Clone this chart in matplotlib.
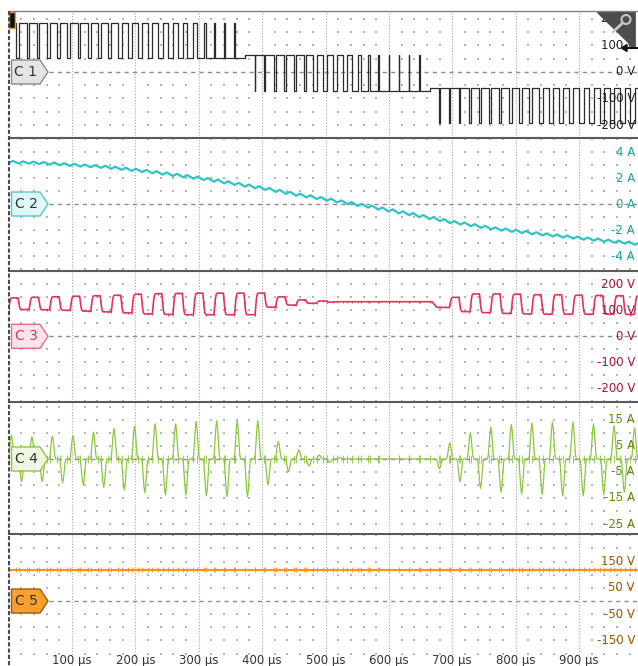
import numpy as np
import matplotlib
matplotlib.use("Agg")
import matplotlib.pyplot as plt
from matplotlib.patches import Polygon, Circle, Rectangle
from matplotlib.transforms import blended_transform_factory

# ---------------- data (time in µs) ----------------
pwm_period = 16.2
t_max = 993

# C1: PWM voltage in three bands: high level, low level, duty of each period
c1_high = [185, 64, -62]
c1_low = [52, -72, -192]
c1_duty_a = [0.75, 0.76, 0.75, 0.74, 0.74, 0.73, 0.72, 0.71, 0.70, 0.69, 0.67, 0.65,
             0.63, 0.60, 0.57, 0.53, 0.48, 0.42, 0.32, 0.22, 0.10, 0.05, 0.04]
c1_duty_b = [0.95, 0.90, 0.85, 0.80, 0.76, 0.72, 0.68, 0.64, 0.58, 0.52, 0.44, 0.33,
             0.20, 0.10, 0.06, 0.04, 0.04, 0.03]
c1_duty_c = [0.95, 0.92, 0.86, 0.82, 0.80, 0.77, 0.75, 0.72, 0.70, 0.68, 0.66, 0.64,
             0.62, 0.60, 0.58, 0.56, 0.55, 0.54, 0.53, 0.52, 0.52]

# C2: current, one value per PWM period (A)
c2_current = [3.23, 3.20, 3.18, 3.15, 3.11, 3.06, 3.01, 2.96, 2.91, 2.86, 2.79, 2.71,
              2.63, 2.54, 2.44, 2.34, 2.24, 2.14, 2.03, 1.92, 1.80, 1.67, 1.55, 1.42,
              1.29, 1.16, 1.01, 0.86, 0.72, 0.59, 0.46, 0.33, 0.20, 0.07, -0.07, -0.20,
              -0.35, -0.49, -0.64, -0.78, -0.93, -1.08, -1.24, -1.39, -1.50, -1.63, -1.76,
              -1.87, -1.97, -2.06, -2.15, -2.25, -2.34, -2.42, -2.50, -2.58, -2.66, -2.74,
              -2.82, -2.90, -2.97, -3.05]
c2_ripple = 0.08

# C3: trapezoid voltage, top and bottom of each cycle (V)
c3_period = 32.4
c3_start = [0, 695.6]
c3_top_1 = [148, 150, 152, 154, 156, 158, 162, 164, 165, 166, 166, 166, 166, 152, 140, 136]
c3_bot_1 = [103, 102, 100, 97, 94, 90, 86, 84, 83, 83, 83, 83, 112, 120, 127, 131]
c3_top_2 = [150, 163, 163, 162, 160, 160, 158, 157, 156, 155]
c3_bot_2 = [95, 91, 88, 86, 85, 85, 85, 85, 84, 84]
c3_gap_t = [520, 668, 676]
c3_gap_v = [133, 133, 111]
# edge shape of one cycle: time fraction, fraction of the swing
c3_rise_f = [0.0, 0.03, 0.07, 0.11, 0.15]
c3_rise_w = [0.0, 0.3, 0.75, 0.95, 1.0]
c3_fall_f = [0.46, 0.49, 0.53, 0.57, 0.61]
c3_fall_w = [1.0, 0.7, 0.25, 0.05, 0.0]

# C4: current lobes, peak of each half cycle (A)
c4_start = [4.3, 679.8]
c4_amp_1 = [9.2, -8.7, 8.6, -8.7, 8.8, -9.1, 9.0, -10.0, 10.3, -10.9, 11.8, -11.9,
            12.7, -13.0, 13.5, -13.8, 13.5, -13.8, 14.4, -14.2, 14.7, -14.5, 14.7,
            -14.5, 14.7, -10.0, 6.7, -4.9, 3.5, -2.7, 1.5, -1.4, 0.6]
c4_amp_2 = [-3.8, 6.3, -8.8, 10.1, -11.3, 12.2, -12.8, 13.2, -13.5, 13.8, -13.7, 14.2,
            -14.2, 14.2, -14.2, 13.5, -13.7, 12.8, -12.8, 12.0]
c4_lobe = [0, 0.12, 0.45, 0.82, 1.0, 0.82, 0.45, 0.12, 0]
c4_lobe_width = 10.5

# C5: DC voltage (V)
c5_t = [0, 993]
c5_v = [119, 119]

# panels
panel_px = [11, 138, 270.5, 402, 533.5, 666]
ylims = [(-249, 230), (-5.115, 5.077), (-252.7, 253.1), (-28.65, 21.9), (-247, 256.7)]
label_vals = [[200, 100, 0, -100, -200], [4, 2, 0, -2, -4], [200, 100, 0, -100, -200],
              [15, 5, -5, -15, -25], [150, 50, -50, -150]]
units = ["V", "A", "V", "A", "V"]
row_step = [50, 1, 50, 5, 50]
trace_col = ["#2b2b2b", "#2ec4c4", "#e2335a", "#8dc63f", "#f7941e"]
label_col = ["#222222", "#1fa3a3", "#a8133c", "#5b8c0a", "#a05800"]
tag_fill = ["#e4e4e4", "#e0f8f8", "#fde4ea", "#eef7e0", "#f7a030"]
tag_edge = ["#8a8a8a", "#4fcaca", "#e56b88", "#8dc63f", "#9a5a10"]
tag_text = ["#333333", "#333333", "#c0405e", "#333333", "#333333"]
x_ticks = [100, 200, 300, 400, 500, 600, 700, 800, 900]

# ---------------- build traces ----------------
t1, v1, edges = [], [], []
idx = 0
for hi, lo, duties in zip(c1_high, c1_low, [c1_duty_a, c1_duty_b, c1_duty_c]):
    for d in duties:
        t0 = idx * pwm_period
        tf = t0 + d * pwm_period
        t1 += [t0, tf, tf, t0 + pwm_period]
        v1 += [hi, hi, lo, lo]
        edges += [t0, tf]
        idx += 1

t2, v2 = [], []
for i, v in enumerate(c2_current):
    t0 = i * pwm_period
    t2 += [t0, t0 + 0.4 * pwm_period]
    v2 += [v - c2_ripple, v + c2_ripple]

t3, v3 = [], []
for k, (s, tops, bots) in enumerate(zip(c3_start, [c3_top_1, c3_top_2], [c3_bot_1, c3_bot_2])):
    prev = bots[0] if k == 0 else c3_gap_v[-1]
    for j, (top, bot) in enumerate(zip(tops, bots)):
        c0 = s + j * c3_period
        t3 += [c0 + f * c3_period for f in c3_rise_f]
        v3 += [prev + w * (top - prev) for w in c3_rise_w]
        t3 += [c0 + f * c3_period for f in c3_fall_f]
        v3 += [bot + w * (top - bot) for w in c3_fall_w]
        prev = bot
    if k == 0:
        t3 += c3_gap_t
        v3 += c3_gap_v

t4, v4 = [0], [0]
offs = np.linspace(-0.5, 0.5, len(c4_lobe)) * c4_lobe_width
for s, amps in zip(c4_start, [c4_amp_1, c4_amp_2]):
    for j, a in enumerate(amps):
        c = s + j * pwm_period
        t4 += list(c + offs)
        v4 += [a * f for f in c4_lobe]
t4.append(t_max)
v4.append(0)

# ---------------- figure ----------------
W, H = 638, 666
fig = plt.figure(figsize=(W / 100, H / 100), dpi=100)
fig.patch.set_facecolor("white")
x0_px = 8.6
axes = []
for p in range(5):
    top, bot = panel_px[p], panel_px[p + 1]
    ax = fig.add_axes([x0_px / W, 1 - bot / H, (W - x0_px) / W, (bot - top) / H])
    ax.set_xlim(0, t_max)
    ax.set_ylim(*ylims[p])
    ax.set_axis_off()
    # graticule
    for xt in x_ticks:
        ax.axvline(xt, color="#a8a8a8", lw=0.8, ls=(0, (1, 1.6)), zorder=0)
    step = row_step[p]
    rows = [r * step for r in range(-12, 13) if r != 0 and ylims[p][0] < r * step < ylims[p][1]]
    cols = [c for c in range(20, t_max, 20) if c % 100]
    gx, gy = np.meshgrid(cols, rows)
    ax.scatter(gx.ravel(), gy.ravel(), s=0.9, marker="s", color="#b4b4b4", lw=0, zorder=0)
    ax.axhline(0, xmin=40 / (W - x0_px), color="#8c8c8c", lw=1.0, ls=(0, (3, 3)), zorder=1)
    bt = blended_transform_factory(ax.transAxes, ax.transData)
    for val in label_vals[p]:
        ax.text(0.9952, val, f"{val} {units[p]}", transform=bt, ha="right", va="center",
                fontsize=8.5, color=label_col[p], zorder=4)
    axes.append(ax)

axes[0].plot(t1, v1, color=trace_col[0], lw=0.9, zorder=2)
axes[1].plot(t2, v2, color=trace_col[1], lw=1.6, zorder=2)
axes[2].plot(t3, v3, color=trace_col[2], lw=1.2, zorder=2)
axes[2].vlines(edges, np.interp(edges, t3, v3) - 4, np.interp(edges, t3, v3) + 4,
               color=trace_col[2], lw=0.6, zorder=2)
axes[3].plot(t4, v4, color=trace_col[3], lw=0.9, zorder=2)
axes[3].vlines(edges, -1.5, 1.5, color=trace_col[3], lw=0.6, zorder=2)
axes[4].plot(c5_t, c5_v, color=trace_col[4], lw=1.6, zorder=2)
axes[4].vlines(edges, c5_v[0] - 9, c5_v[0] + 9, color=trace_col[4], lw=0.6, zorder=2)

bt5 = blended_transform_factory(axes[4].transData, axes[4].transAxes)
for xt in x_ticks:
    axes[4].text(xt, 0.045, f"{xt} µs", transform=bt5, ha="center", va="center",
                 fontsize=8.5, color="#333333", zorder=4)

# ---------------- overlay (pixel space) ----------------
deco = fig.add_axes([0, 0, 1, 1], zorder=10)
deco.set_xlim(0, W)
deco.set_ylim(H, 0)
deco.set_axis_off()

deco.plot([x0_px, W], [11, 11], color="#808080", lw=1.0)
for y in panel_px[1:5]:
    deco.plot([x0_px, W], [y, y], color="#5a5a5a", lw=1.5)
deco.plot([x0_px, x0_px], [11, H], color="#4a4a4a", lw=1.5, ls=(0, (2, 1)))

for p, ax in enumerate(axes):
    yc = H - ax.transData.transform((0, 0))[1]
    pts = [(11.5, yc - 12), (40, yc - 12), (48, yc), (40, yc + 12), (11.5, yc + 12)]
    deco.add_patch(Polygon(pts, closed=True, facecolor=tag_fill[p], edgecolor=tag_edge[p],
                           lw=1.0, joinstyle="round"))
    deco.text(26, yc, f"C {p + 1}", ha="center", va="center", fontsize=10,
              color=tag_text[p])

# trigger position marker
deco.add_patch(Rectangle((9, 12), 6, 16, facecolor="#111111", edgecolor="#f0a030", lw=1.0))
# zoom icon
deco.add_patch(Polygon([(598, 11.5), (634, 11.5), (634, 47)], closed=True,
                       facecolor="#4d4d4d", edgecolor="#4d4d4d", lw=2, joinstyle="round"))
deco.add_patch(Circle((626, 19.5), 4.5, facecolor="none", edgecolor="#c8c8c8", lw=1.5))
deco.plot([622.8, 613], [22.7, 32], color="#c8c8c8", lw=2, solid_capstyle="round")
# trigger level marker
deco.add_patch(Polygon([(621.5, 48), (627, 44.5), (627, 51.5)], closed=True,
                       facecolor="#111111", edgecolor="#111111"))
deco.plot([626, W], [48, 48], color="#111111", lw=1.5)

fig.savefig("out.png", dpi=100, facecolor="white")
